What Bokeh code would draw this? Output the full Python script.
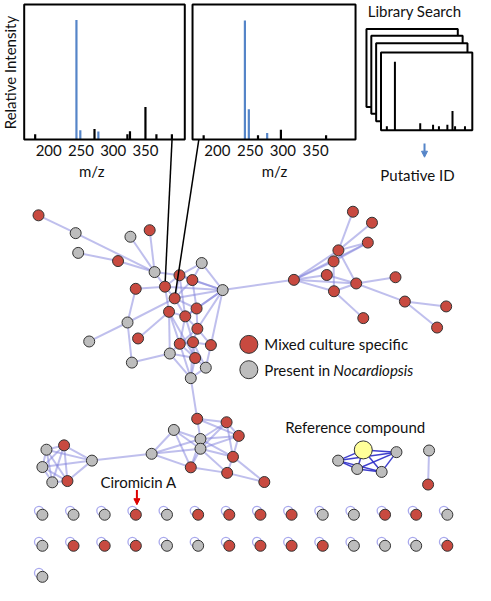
import math
from bokeh.plotting import figure
from bokeh.models import Range1d, Arrow, NormalHead
from bokeh.core.properties import value
from bokeh.embed import file_html
from bokeh.resources import INLINE

# ---------------- data ----------------
mz_min, mz_max = 162, 411
mz_ticks = [200, 250, 300, 350]

spec1_mz = [179, 243, 249, 271, 277, 322, 326, 350, 367, 391]
spec1_int = [0.038, 0.885, 0.068, 0.077, 0.058, 0.038, 0.06, 0.24, 0.038, 0.038]
spec1_shared = [0, 1, 1, 0, 1, 0, 0, 0, 0, 0]

spec2_mz = [179, 242, 248, 262, 276, 297, 366]
spec2_int = [0.03, 0.88, 0.224, 0.03, 0.048, 0.072, 0.03]
spec2_shared = [0, 1, 1, 0, 1, 0, 0]

lib_mz = [178, 200, 269, 304, 320, 343, 357, 364, 391]
lib_int = [0.05, 0.88, 0.09, 0.07, 0.05, 0.07, 0.246, 0.05, 0.05]

node_id = ["A0", "A1", "A2", "A3", "A4", "A5", "A6", "A7", "A8", "A9", "A10", "A11", "A12",
           "A13", "A14", "A15", "A16", "A17", "A18", "A19", "A20", "A21", "A22", "A23",
           "A24", "A25", "A26", "A27", "A28",
           "B0", "B1", "B2", "B3", "B4", "B5", "B6", "B7", "B8", "B9", "B10", "B11", "B12",
           "B13", "B14", "B15", "B16",
           "C0", "C1", "C2", "C3", "C4", "C5", "C6", "C7", "C8", "C9", "C10", "C11", "C12", "C13",
           "R0", "R1", "R2", "R3", "R4", "P0", "P1"]
node_x = [39.3, 77.7, 80.3, 121.5, 134.3, 154.2, 159.3, 170.0, 185.0, 198.3, 208.0, 229.7, 139.8,
          180.0, 174.2, 202.7, 191.0, 131.3, 203.5, 142.2, 91.7, 185.3, 199.0, 217.5,
          175.0, 201.2, 212.2, 135.8, 196.7,
          47.5, 65.7, 43.3, 53.5, 69.2, 94.5, 156.2, 179.2, 203.3, 206.7, 206.7, 233.7, 246.3,
          240.3, 196.7, 234.3, 272.7,
          364.3, 384.0, 379.7, 349.3, 344.3, 337.3, 303.3, 367.7, 408.3, 344.7, 418.0, 460.7, 451.3, 375.0,
          375.0, 349.0, 409.3, 368.7, 394.0, 443.0, 442.0]
node_y = [220.7, 239.0, 259.3, 267.7, 242.7, 236.0, 279.0, 294.0, 282.3, 287.2, 269.7, 297.5, 296.2,
          306.0, 319.8, 316.4, 324.5, 330.8, 337.2, 347.2, 350.3, 352.7, 351.0, 354.0,
          362.7, 367.3, 377.2, 372.0, 388.0,
          461.5, 457.0, 479.3, 495.0, 493.7, 472.7, 465.7, 441.2, 429.7, 450.5, 460.5, 433.3, 447.3,
          468.8, 479.6, 485.3, 494.7,
          217.0, 228.3, 248.7, 256.7, 268.0, 282.0, 287.0, 290.7, 284.3, 298.7, 309.3, 314.3, 336.0, 326.3,
          461.7, 472.7, 464.0, 481.3, 484.3, 462.3, 497.3]
node_kind = ["m", "n", "n", "m", "n", "m", "n", "m", "m", "m", "n", "n", "m",
             "m", "m", "m", "m", "n", "m", "m", "n", "m", "m", "m",
             "n", "m", "n", "n", "n",
             "n", "m", "n", "n", "m", "n", "n", "n", "m", "n", "n", "m", "m",
             "m", "m", "m", "m",
             "m", "m", "m", "m", "m", "m", "m", "m", "m", "m", "m", "m", "m", "m",
             "ref", "n", "n", "n", "n", "n", "m"]

edges = [("A0", "A1"), ("A1", "A6"), ("A2", "A3"), ("A3", "A6"), ("A4", "A6"), ("A5", "A6"),
         ("A6", "A7"), ("A6", "A8"), ("A12", "A7"), ("A12", "A17"), ("A17", "A13"), ("A17", "A20"),
         ("A17", "A27"), ("A19", "A14"), ("A27", "A24"), ("A24", "A14"), ("A24", "A28"), ("A24", "A21"),
         ("A24", "A25"), ("A28", "A26"), ("A28", "A25"), ("A28", "A21"), ("A28", "A22"), ("A10", "A9"),
         ("A10", "A8"), ("A10", "A11"), ("A9", "A11"), ("A8", "A11"), ("A13", "A11"), ("A15", "A11"),
         ("A16", "A11"), ("A23", "A11"), ("A18", "A11"), ("A7", "A8"), ("A7", "A13"), ("A7", "A14"),
         ("A8", "A9"), ("A8", "A13"), ("A9", "A13"), ("A8", "A16"), ("A9", "A15"), ("A13", "A15"),
         ("A13", "A16"), ("A14", "A16"), ("A14", "A21"), ("A15", "A16"), ("A15", "A18"), ("A16", "A18"),
         ("A16", "A21"), ("A16", "A22"), ("A18", "A21"), ("A18", "A22"), ("A18", "A23"), ("A21", "A22"),
         ("A21", "A25"), ("A22", "A25"), ("A22", "A23"), ("A23", "A26"), ("A25", "A26"), ("A22", "A26"),
         ("A14", "A25"), ("A7", "A11"), ("A28", "B8"), ("A11", "C6"),
         ("C6", "C3"), ("C6", "C4"), ("C6", "C2"), ("C6", "C5"), ("C6", "C7"), ("C6", "C9"),
         ("C3", "C0"), ("C3", "C1"), ("C3", "C2"), ("C4", "C2"), ("C3", "C7"), ("C4", "C9"),
         ("C7", "C8"), ("C7", "C10"), ("C10", "C11"), ("C10", "C12"), ("C9", "C13"), ("C9", "C7"),
         ("C5", "C7"),
         ("B0", "B1"), ("B0", "B2"), ("B0", "B3"), ("B0", "B4"), ("B1", "B2"), ("B1", "B3"),
         ("B1", "B4"), ("B2", "B3"), ("B2", "B4"), ("B3", "B4"), ("B0", "B5"), ("B1", "B5"),
         ("B2", "B5"), ("B4", "B5"), ("B5", "B6"), ("B6", "B7"), ("B6", "B9"), ("B6", "B10"),
         ("B6", "B14"), ("B7", "B9"), ("B7", "B10"), ("B7", "B14"), ("B8", "B9"), ("B9", "B10"),
         ("B9", "B11"), ("B9", "B12"), ("B9", "B13"), ("B10", "B11"), ("B10", "B12"), ("B10", "B13"),
         ("B10", "B15"), ("B11", "B12"), ("B11", "B13"), ("B12", "B13"), ("B13", "B15"), ("B14", "B15"),
         ("B14", "B10"), ("B14", "B9"), ("B13", "B16"), ("B15", "B16"), ("B8", "B11"), ("B8", "B12"),
         ("P0", "P1")]

ref_edges = [("R0", "R1"), ("R0", "R2"), ("R0", "R3"), ("R0", "R4"), ("R1", "R2"),
             ("R1", "R3"), ("R1", "R4"), ("R2", "R3"), ("R2", "R4"), ("R3", "R4")]

# singleton (self-loop) nodes, read row by row
single_row1 = ["n", "n", "n", "m", "n", "m", "m", "m", "m", "n", "n", "m", "m", "n"]
single_row2 = ["n", "m", "m", "m", "n", "n", "m", "m", "m", "m", "n", "n", "n", "m"]
single_row3 = ["n"]

# library pages (stacked)
page_left = [378.3, 383.3, 388.3, 393.3]
page_top = [29.3, 36.3, 44.0, 53.3]

# ---------------- style ----------------
RED = "#c84a40"
GRAY = "#bdbdbd"
YELLOW = "#ffff99"
BLUE = "#5585c8"
EDGE = "#8080dc"
FONT = "Lato"
FS = "15px"
TXT = "#111111"

colors = {"m": RED, "n": GRAY, "ref": YELLOW}

p = figure(width=475, height=585, x_range=Range1d(0, 491), y_range=Range1d(601, 0),
           output_backend="svg", toolbar_location=None, min_border=0,
           x_axis_location=None, y_axis_location=None)
p.grid.visible = False
p.outline_line_color = None

pos = {k: (x, y) for k, x, y in zip(node_id, node_x, node_y)}

# ---------------- spectra panels ----------------
panel_targets = [((24.5, 190.5), spec1_mz, spec1_int, spec1_shared),
                 ((198.5, 367.0), spec2_mz, spec2_int, spec2_shared)]
for (tx0, tx1), mz, inten, shared in panel_targets:
    sp = p.subplot(x_source=Range1d(mz_min, mz_max), y_source=Range1d(0, 1),
                   x_target=Range1d(tx0, tx1), y_target=Range1d(142.7, 4))
    sp.segment(x0=mz, y0=[0] * len(mz), x1=mz, y1=inten,
               line_color=[BLUE if s else "black" for s in shared], line_width=2.2)
    sp.quad(left=[mz_min], right=[mz_max], bottom=[0], top=[1], fill_color=None,
            line_color="black", line_width=2)
    sp.text(x=mz_ticks, y=[-0.08] * len(mz_ticks), text=[str(t) for t in mz_ticks],
            text_align="center", text_baseline="middle", text_font=value(FONT),
            text_font_size=FS, text_color=TXT)

p.text(x=[94.3, 283.3], y=[175, 175], text=["m/z", "m/z"], text_align="center",
       text_baseline="middle", text_font=value(FONT), text_font_size=FS, text_color=TXT)
p.text(x=[9.5], y=[74], text=["Relative Intensity"], angle=math.pi / 2, text_align="center",
       text_baseline="middle", text_font=value(FONT), text_font_size=FS, text_color=TXT)

# library pages
p.quad(left=page_left, right=[l + 94.4 for l in page_left], top=page_top,
       bottom=[t + 80 for t in page_top], fill_color="white", line_color="black", line_width=2)
lib = p.subplot(x_source=Range1d(mz_min, mz_max), y_source=Range1d(0, 1),
                x_target=Range1d(page_left[-1], page_left[-1] + 94.4),
                y_target=Range1d(page_top[-1] + 80, page_top[-1]))
lib.segment(x0=lib_mz, y0=[0] * len(lib_mz), x1=lib_mz, y1=lib_int, line_color="black", line_width=2)
p.text(x=[428], y=[11], text=["Library Search"], text_align="center", text_baseline="middle",
       text_font=value(FONT), text_font_size=FS, text_color=TXT)
p.text(x=[431], y=[179], text=["Putative ID"], text_align="center", text_baseline="middle",
       text_font=value(FONT), text_font_size=FS, text_color=TXT)
p.add_layout(Arrow(end=NormalHead(size=6, fill_color=BLUE, line_color=BLUE),
                   x_start=438.3, y_start=147, x_end=438.3, y_end=161,
                   line_color=BLUE, line_width=2))

# ---------------- network ----------------
ex0, ey0, ex1, ey1 = [], [], [], []
for a, b in edges:
    ex0.append(pos[a][0]); ey0.append(pos[a][1]); ex1.append(pos[b][0]); ey1.append(pos[b][1])
p.segment(x0=ex0, y0=ey0, x1=ex1, y1=ey1, line_color=EDGE, line_alpha=0.5, line_width=2)

rx0, ry0, rx1, ry1 = [], [], [], []
for a, b in ref_edges:
    rx0.append(pos[a][0]); ry0.append(pos[a][1]); rx1.append(pos[b][0]); ry1.append(pos[b][1])
p.segment(x0=rx0, y0=ry0, x1=rx1, y1=ry1, line_color="#2b2bc8", line_alpha=0.9, line_width=1.5)

# singletons with self loops
sx, sy, sc = [], [], []
for r, row in enumerate([single_row1, single_row2, single_row3]):
    for i, k in enumerate(row):
        sx.append(43.3 + 32.2 * i)
        sy.append(528.3 + 31.9 * r)
        sc.append(colors[k])
p.scatter(x=[x - 3.5 for x in sx], y=[y - 4 for y in sy], size=9, fill_color=None,
          line_color="#9a9aea", line_width=1.3, line_alpha=0.85)
p.scatter(x=sx, y=sy, size=11, fill_color=sc, line_color="#333333", line_width=1)

small = [i for i, k in enumerate(node_kind) if k != "ref"]
p.scatter(x=[node_x[i] for i in small], y=[node_y[i] for i in small], size=11,
          fill_color=[colors[node_kind[i]] for i in small], line_color="#333333", line_width=1)
big = [i for i, k in enumerate(node_kind) if k == "ref"]
p.scatter(x=[node_x[i] for i in big], y=[node_y[i] for i in big], size=18,
          fill_color=YELLOW, line_color="#333333", line_width=1)

# connectors from spectra to nodes
conn_start = [(177.3, 143), (205.0, 143)]
conn_node = ["A7", "A13"]
cx0, cy0, cx1, cy1 = [], [], [], []
for (xs, ys), n in zip(conn_start, conn_node):
    xe, ye = pos[n]
    d = math.hypot(xe - xs, ye - ys)
    cx0.append(xs); cy0.append(ys)
    cx1.append(xe - (xe - xs) * 5.5 / d); cy1.append(ye - (ye - ys) * 5.5 / d)
p.segment(x0=cx0, y0=cy0, x1=cx1, y1=cy1, line_color="black", line_width=1.5)

# legend
p.scatter(x=[256.7, 256.7], y=[353.3, 379.3], size=18, fill_color=[RED, GRAY],
          line_color="#333333", line_width=1)
p.text(x=[272.7, 272.7], y=[353.3, 379.3], text=["Mixed culture specific", "Present in"],
       text_align="left", text_baseline="middle", text_font=value(FONT), text_font_size=FS,
       text_color=TXT)
p.text(x=[344.0], y=[379.3], text=["Nocardiopsis"], text_align="left", text_baseline="middle",
       text_font=value(FONT), text_font_size=FS, text_font_style="italic", text_color=TXT)

p.text(x=[366.7], y=[438.3], text=["Reference compound"], text_align="center",
       text_baseline="middle", text_font=value(FONT), text_font_size=FS, text_color=TXT)
p.text(x=[142.7], y=[494.3], text=["Ciromicin A"], text_align="center",
       text_baseline="middle", text_font=value(FONT), text_font_size=FS, text_color=TXT)
p.add_layout(Arrow(end=NormalHead(size=6, fill_color="#dd0000", line_color="#dd0000"),
                   x_start=141, y_start=503, x_end=141, y_end=518,
                   line_color="#dd0000", line_width=2))

open("out.html", "w").write(file_html(p, INLINE))
